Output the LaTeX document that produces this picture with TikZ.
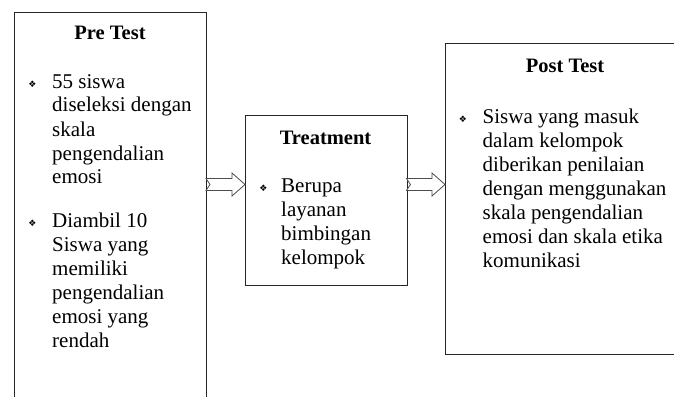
\documentclass[tikz,border=0pt]{standalone}
\usepackage{fontspec}
\setmainfont{Liberation Serif}
\newfontfamily\symfont{DejaVu Sans}
\usetikzlibrary{calc}
\tikzset{
  boxnode/.style={draw=black!85, line width=1pt, rectangle, inner sep=0pt, anchor=north west},
  titletext/.style={font=\fontsize{20.5}{24}\selectfont\bfseries, anchor=base, inner sep=0pt},
  bodytext/.style={font=\fontsize{21}{24}\selectfont, anchor=base west, inner sep=0pt},
  bulletmark/.style={font=\symfont\fontsize{9}{9}\selectfont, anchor=center, inner sep=0pt},
  blockarrow/.style={draw=black!70, line width=0.8pt, fill=white, line join=miter}
}
\newcommand{\blkarrow}[3]{% tail x, tip x, y
  \draw[blockarrow] (#1,#3-6) -- (#2-13,#3-6) -- (#2-13,#3-11.5) -- (#2,#3)
    -- (#2-13,#3+11.5) -- (#2-13,#3+6) -- (#1,#3+6) -- (#1+4,#3) -- cycle;}
\begin{document}
\begin{tikzpicture}[x=1pt,y=-1pt]
\useasboundingbox (0,0) rectangle (674,396);
\clip (0,0) rectangle (674,396);
\fill[white] (0,0) rectangle (674,396);

% boxes
\node[boxnode, minimum width=192.5pt, minimum height=420pt] (pre) at (13.5,12.5) {};
\node[boxnode, minimum width=162pt, minimum height=169.5pt] (treat) at (244.5,115) {};
\node[boxnode, minimum width=250pt, minimum height=310pt] (post) at (444.5,43.5) {};

% arrows
\blkarrow{206}{245}{184.5}
\blkarrow{406.5}{445}{184.5}

% Pre Test
\node[titletext] (pretitle) at (110,40) {Pre Test};
\node[bulletmark] (preb1) at (32.5,84) {❖};
\node[bodytext] (pret1) at (52,88) {\parbox[t]{150pt}{\raggedright 55 siswa\\diseleksi dengan\\skala\\pengendalian\\emosi}};
\node[bulletmark] (preb2) at (32.5,223) {❖};
\node[bodytext] (pret2) at (52,227) {\parbox[t]{150pt}{\raggedright Diambil 10\\Siswa yang\\memiliki\\pengendalian\\emosi yang\\rendah}};

% Treatment
\node[titletext] (treattitle) at (325.5,144) {Treatment};
\node[bulletmark] (treatb1) at (263.5,188) {❖};
\node[bodytext] (treatt1) at (281,192) {\parbox[t]{120pt}{\raggedright Berupa\\layanan\\bimbingan\\kelompok}};

% Post Test
\node[titletext] (posttitle) at (565,72) {Post Test};
\node[bulletmark] (postb1) at (463,119) {❖};
\node[bodytext] (postt1) at (482.5,123) {\parbox[t]{200pt}{\raggedright Siswa yang masuk\\dalam kelompok\\diberikan penilaian\\dengan menggunakan\\skala pengendalian\\emosi dan skala etika\\komunikasi}};
\end{tikzpicture}
\end{document}
